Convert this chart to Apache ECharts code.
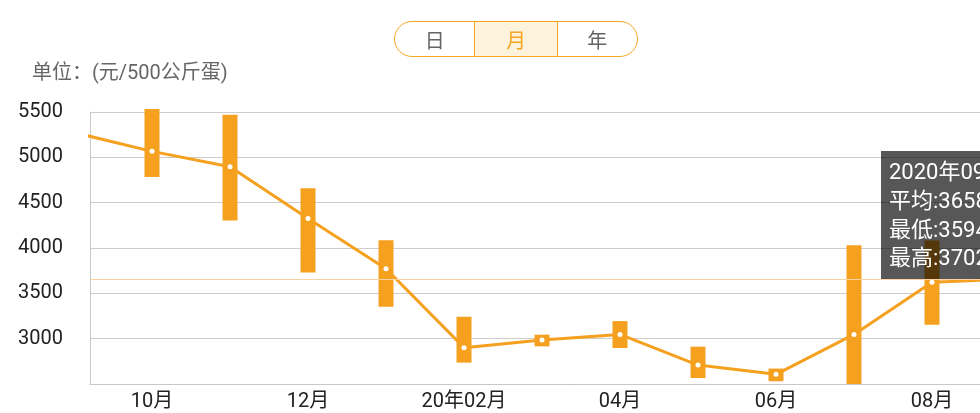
<!DOCTYPE html>
<html>
<head>
<meta charset="utf-8">
<script src="https://cdn.jsdelivr.net/npm/echarts@6/dist/echarts.min.js"></script>
<style>
  html, body { margin: 0; padding: 0; width: 980px; height: 413px; overflow: hidden; background: #fff; }
  #chart { position: absolute; left: 0; top: 0; width: 1100px; height: 413px; }
  #seg { position: absolute; left: 394px; top: 21px; width: 242px; height: 34px;
         border: 1.5px solid #f5a623; border-radius: 19px; overflow: hidden; display: flex;
         font-family: Roboto, "Noto Sans CJK SC", sans-serif; font-size: 20px; z-index: 5; background:#fff; }
  #seg div { display: flex; align-items: center; justify-content: center; color: #666; }
  #seg .on { color: #f5a623; background: #fdf3dc; border-left: 1.5px solid #f5a623; border-right: 1.5px solid #f5a623; }
</style>
</head>
<body>
<div id="chart"></div>
<div id="seg"><div style="width:80px">日</div><div class="on" style="width:82px">月</div><div style="width:80px">年</div></div>
<script>
// Months (index = position on x axis)
var months = ['2019-09','2019-10','2019-11','2019-12','2020-01','2020-02','2020-03','2020-04','2020-05','2020-06','2020-07','2020-08','2020-09'];
var meanValues = [5274, 5066, 4897, 4325, 3771, 2901, 2985, 3047, 2709, 2607, 3047, 3623, 3658];
var lowValues  = [5020, 4784, 4303, 3730, 3352, 2736, 2915, 2897, 2566, 2530, 2500, 3154, 3594];
var highValues = [5520, 5533, 5470, 4659, 4086, 3242, 3044, 3194, 2912, 2670, 4031, 4083, 3702];
// x-axis tick labels at month indices
var xTickIndex  = [1, 3, 5, 7, 9, 11];
var xTickLabels = ['10月', '12月', '20年02月', '04月', '06月', '08月'];
// y axis ticks
var yMin = 2500, yMax = 5500, yStep = 500;
// tooltip content for selected month
var tipLines = ['2020年09月', '平均:3658', '最低:3594', '最高:3702'];
var selectedAvg = 3658;

var FONT = 'Roboto, "Noto Sans CJK SC", sans-serif';
var ORANGE = '#f5a11f';

var rangeData = months.map(function (m, i) { return [i, lowValues[i], highValues[i]]; });
var meanData = months.map(function (m, i) { return [i, meanValues[i]]; });

function tipText(i, y) {
  return { type: 'text', x: 8, y: y, z: 101,
    style: { text: tipLines[i], fill: '#fff', fontSize: 22, fontFamily: FONT, verticalAlign: 'middle' } };
}

var chart = echarts.init(document.getElementById('chart'), null, { renderer: 'canvas' });
chart.setOption({
  animation: false,
  title: {
    text: '单位：(元/500公斤蛋)', left: 32, top: 64, padding: 0,
    textStyle: { fontSize: 20, color: '#666', fontWeight: 'normal', fontFamily: FONT }
  },
  grid: { left: 90, right: 40, top: 112, bottom: 29 },
  xAxis: {
    type: 'value', min: 0.205, max: 12.641,
    axisLine: { show: true, onZero: false, lineStyle: { color: '#c8c8c8', width: 1 } },
    axisTick: { show: false },
    splitLine: { show: false },
    axisLabel: {
      customValues: xTickIndex,
      fontSize: 20, color: '#222', fontFamily: FONT, margin: 8,
      formatter: function (v) {
        var k = xTickIndex.indexOf(Math.round(v));
        return k >= 0 ? xTickLabels[k] : '';
      }
    }
  },
  yAxis: {
    type: 'value', min: yMin, max: yMax, interval: yStep,
    axisLine: { show: true, lineStyle: { color: '#c8c8c8', width: 1 } },
    axisTick: { show: false },
    splitLine: { lineStyle: { color: '#cccccc', width: 1 } },
    axisLabel: { showMinLabel: false, fontSize: 20, color: '#222', fontFamily: FONT, margin: 27,
      formatter: function (v) { return String(v); } }
  },
  series: [
    {
      type: 'custom',
      data: rangeData,
      z: 2,
      renderItem: function (params, api) {
        var x = api.value(0);
        var p1 = api.coord([x, api.value(2)]);
        var p2 = api.coord([x, api.value(1)]);
        var w = 15;
        var cs = params.coordSys;
        var shape = echarts.graphic.clipRectByRect(
          { x: p1[0] - w / 2, y: p1[1], width: w, height: p2[1] - p1[1] },
          { x: cs.x, y: 0, width: cs.width, height: cs.y + cs.height }
        );
        return shape && { type: 'rect', shape: shape, style: { fill: ORANGE } };
      }
    },
    {
      type: 'line',
      data: meanData,
      z: 3,
      symbol: 'circle', symbolSize: 5, showSymbol: true,
      lineStyle: { color: ORANGE, width: 3 },
      itemStyle: { color: '#ffffff', borderWidth: 0 },
      markLine: {
        silent: true, symbol: 'none', label: { show: false },
        lineStyle: { color: '#fbd3a0', width: 1, type: 'solid' },
        data: [{ yAxis: selectedAvg }]
      }
    }
  ],
  graphic: [
    {
      type: 'group', left: 881, top: 151, z: 100,
      children: [
        { type: 'rect', z: 100, shape: { x: 0, y: 0, width: 160, height: 128 }, style: { fill: 'rgba(0,0,0,0.66)' } },
        tipText(0, 22), tipText(1, 51), tipText(2, 80), tipText(3, 108)
      ]
    }
  ]
});
</script>
</body>
</html>
